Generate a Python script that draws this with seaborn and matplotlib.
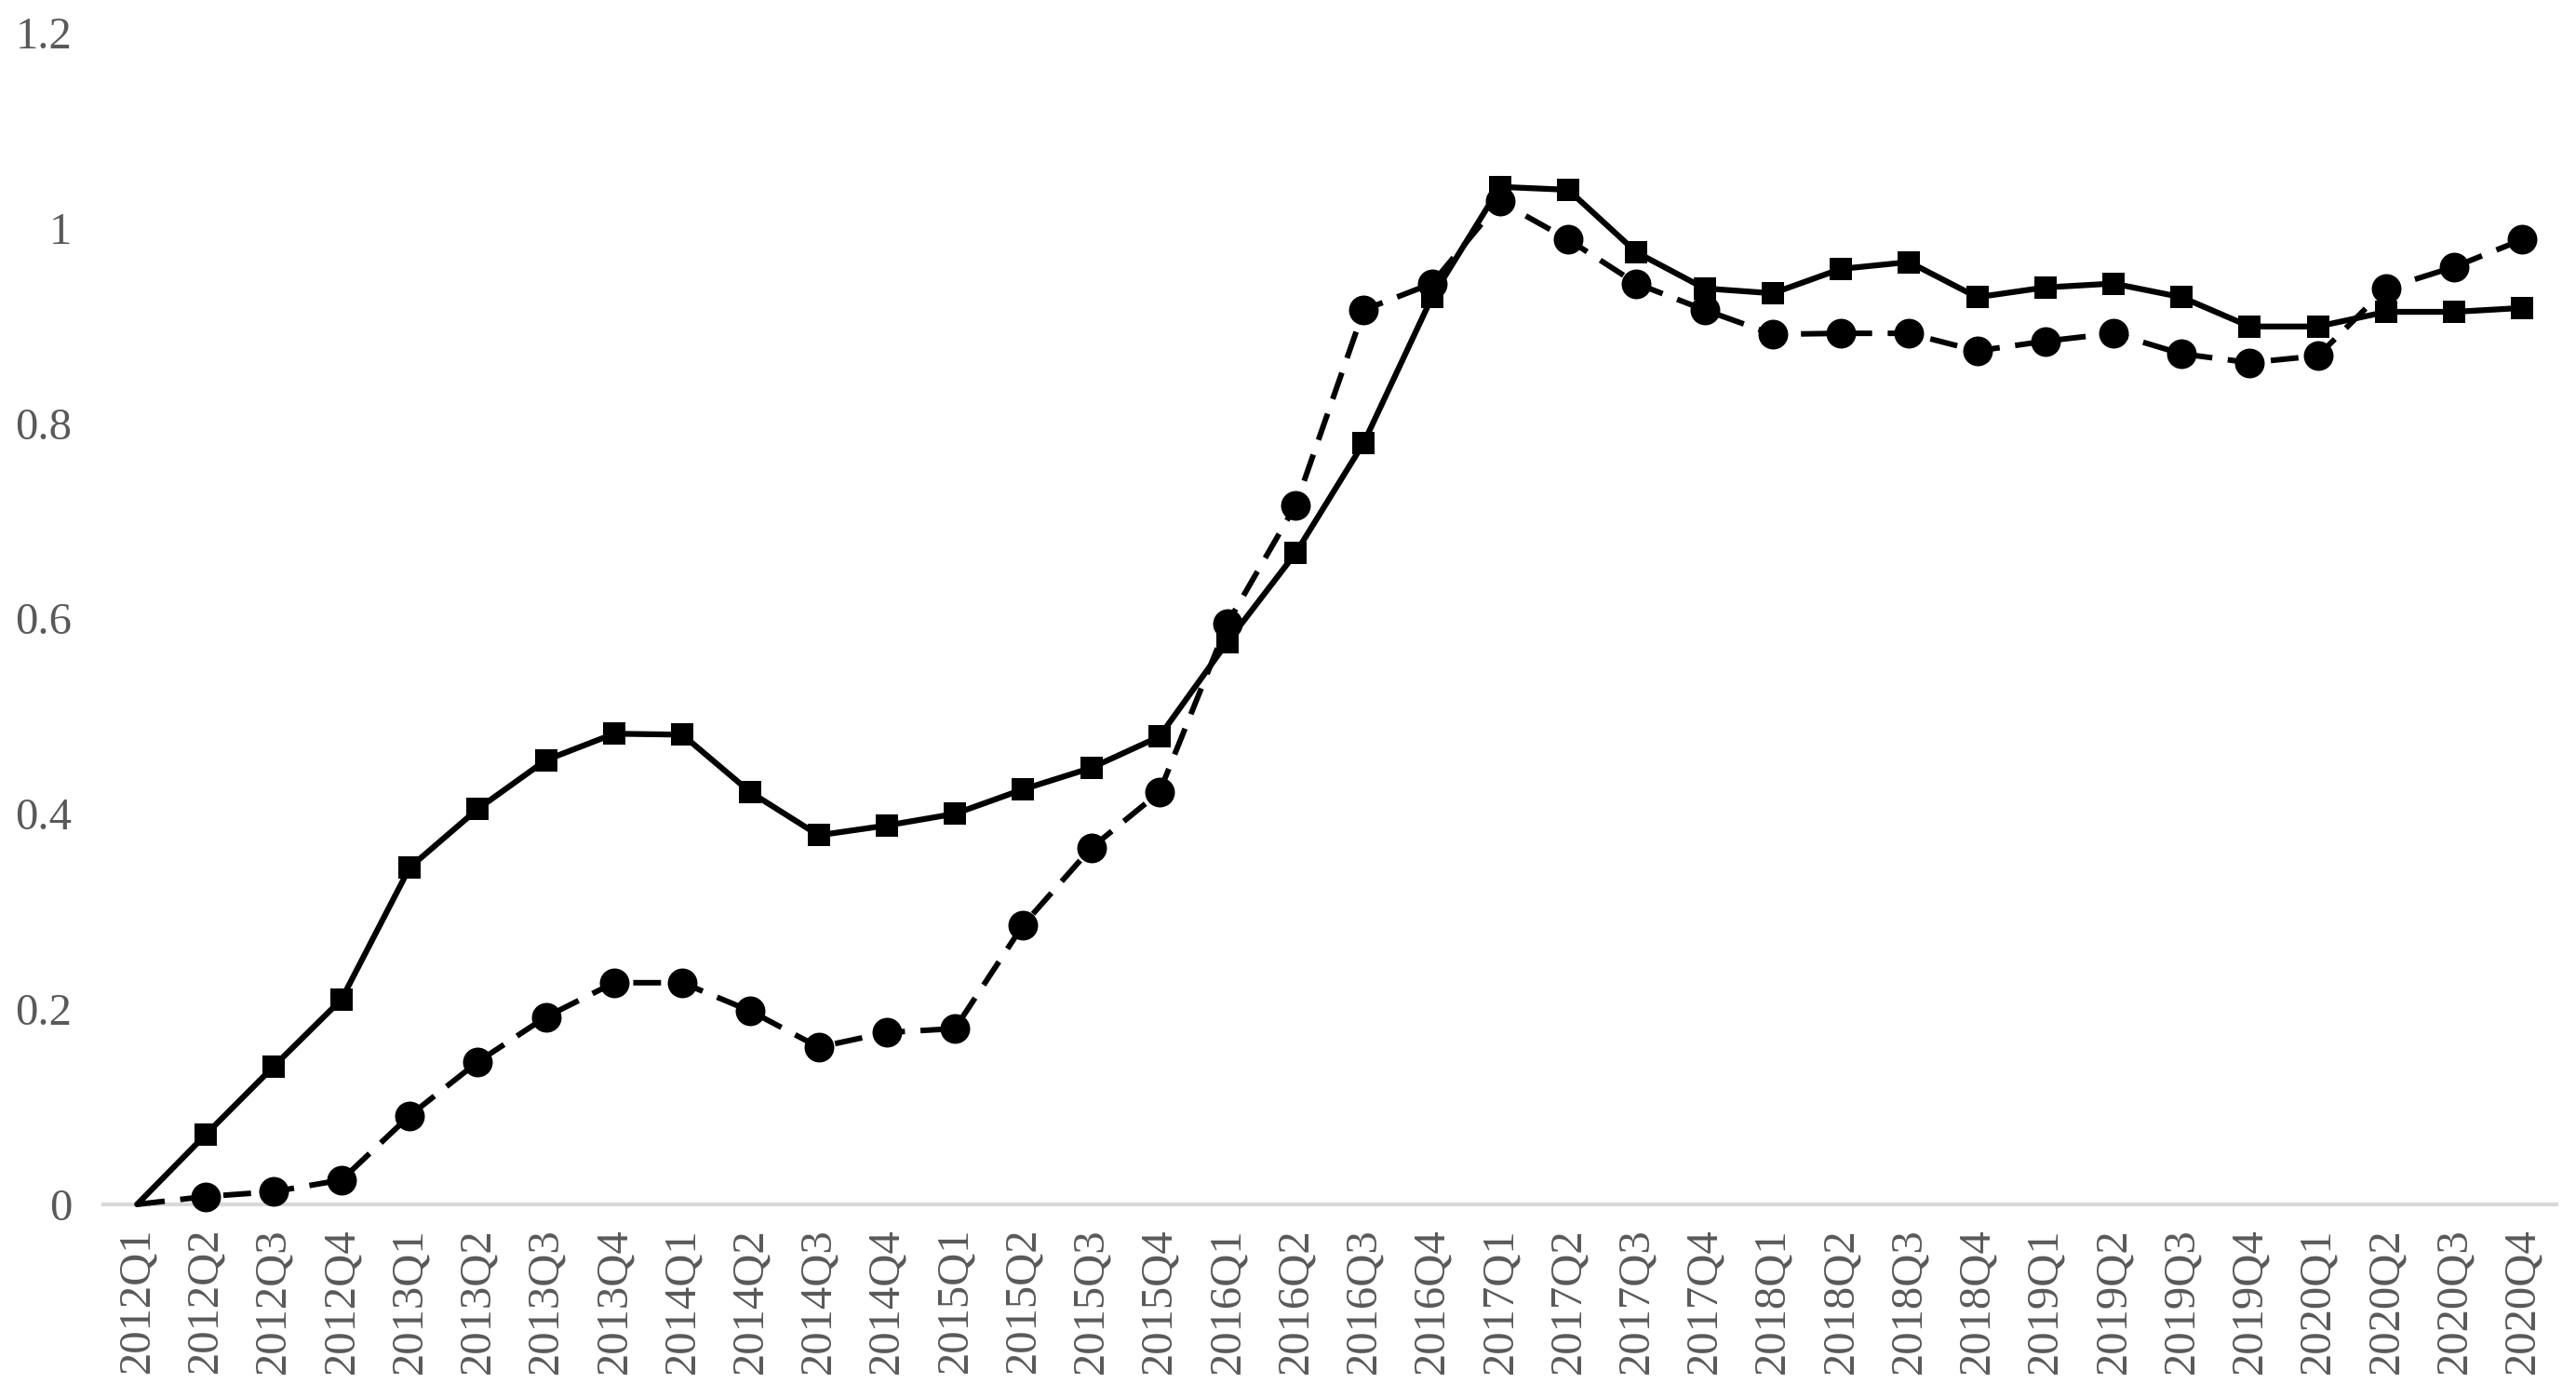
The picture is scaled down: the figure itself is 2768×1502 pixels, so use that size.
import matplotlib
matplotlib.use("Agg")
import matplotlib.pyplot as plt
import pandas as pd
import seaborn as sns

# quarters on the x axis
quarters = [f"{y}Q{q}" for y in range(2012, 2021) for q in range(1, 5)]

# solid series (square markers)
solid_vals = [0.000, 0.071, 0.141, 0.210, 0.345, 0.405, 0.455, 0.482, 0.481,
              0.422, 0.378, 0.388, 0.400, 0.425, 0.447, 0.479, 0.576, 0.667,
              0.780, 0.929, 1.042, 1.039, 0.975, 0.938, 0.933, 0.958, 0.965,
              0.929, 0.939, 0.943, 0.929, 0.899, 0.899, 0.914, 0.914, 0.918]

# dashed series (circle markers)
dashed_vals = [0.000, 0.008, 0.013, 0.025, 0.091, 0.146, 0.192, 0.227, 0.227,
               0.198, 0.161, 0.176, 0.180, 0.286, 0.365, 0.422, 0.595, 0.716,
               0.916, 0.943, 1.027, 0.988, 0.943, 0.916, 0.891, 0.892, 0.892,
               0.874, 0.884, 0.892, 0.871, 0.862, 0.869, 0.938, 0.960, 0.988]

y_ticks = [0, 0.2, 0.4, 0.6, 0.8, 1.0, 1.2]
y_tick_labels = ["0", "0.2", "0.4", "0.6", "0.8", "1", "1.2"]

df = pd.DataFrame({"pos": range(len(quarters)), "quarter": quarters,
                   "solid": solid_vals, "dashed": dashed_vals})

sns.set_style("white")
plt.rcParams["font.family"] = ["Liberation Serif", "DejaVu Serif"]

fig = plt.figure(figsize=(27.68, 15.02), dpi=100)
ax = fig.add_axes([0.040, 0.1385, 0.9524, 0.8382])

# dashed line first so the solid line sits on top
sns.lineplot(data=df, x="pos", y="dashed", ax=ax, color="black", lw=4.3,
             dashes=False, marker="o", markersize=23, markeredgewidth=0)
ax.lines[-1].set_dashes((5.0, 2.8))
ax.lines[-1].set_markevery(list(range(1, len(quarters))))
sns.lineplot(data=df, x="pos", y="solid", ax=ax, color="black", lw=4.5,
             marker="s", markersize=17, markeredgewidth=0)
ax.lines[-1].set_markevery(list(range(1, len(quarters))))

ax.set_xlim(-0.5, len(quarters) - 0.5)
ax.set_ylim(0, 1.2)
ax.set_xticks(range(len(quarters)))
ax.set_xticklabels(quarters, rotation=90, fontsize=35, color="#595959")
ax.set_yticks(y_ticks)
ax.set_yticklabels(y_tick_labels, fontsize=35, color="#595959")
ax.tick_params(axis="x", length=0, pad=18)
ax.tick_params(axis="y", length=0, pad=24)
ax.set_xlabel("")
ax.set_ylabel("")

for side in ["top", "right", "left"]:
    ax.spines[side].set_visible(False)
ax.spines["bottom"].set_color("#d9d9d9")
ax.spines["bottom"].set_linewidth(3.0)
ax.spines["bottom"].set_zorder(0)
for ln in ax.lines:
    ln.set_clip_on(False)

fig.savefig("out.png", dpi=100)
